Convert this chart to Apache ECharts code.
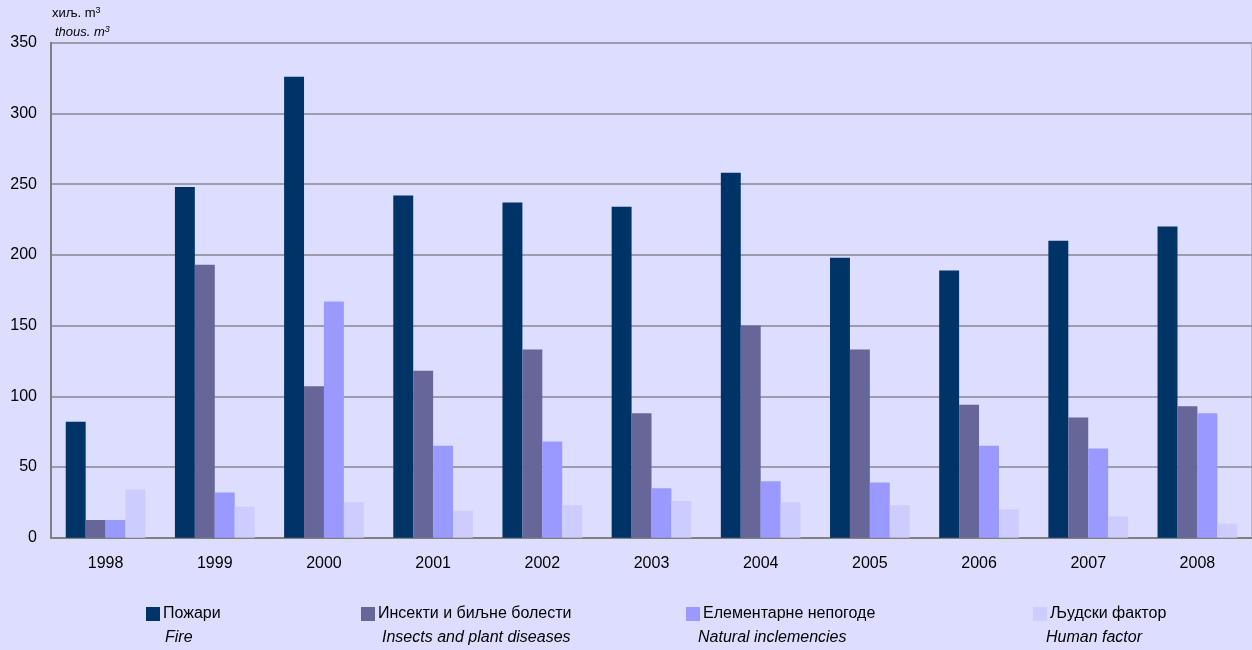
<!DOCTYPE html>
<html>
<head>
<meta charset="utf-8">
<script src="https://cdn.jsdelivr.net/npm/echarts@6/dist/echarts.min.js"></script>
<style>
  html, body { margin: 0; padding: 0; background: #DDDDFF; }
  #main { width: 1252px; height: 650px; }
</style>
</head>
<body>
<div id="main"></div>
<script>
// data
const years = ['1998', '1999', '2000', '2001', '2002', '2003', '2004', '2005', '2006', '2007', '2008'];
const fire = [82, 248, 326, 242, 237, 234, 258, 198, 189, 210, 220];
const insects = [12.5, 193, 107, 118, 133, 88, 150, 133, 94, 85, 93];
const natural = [12.5, 32, 167, 65, 68, 35, 40, 39, 65, 63, 88];
const human = [34, 22, 25, 19, 23, 26, 25, 23, 20, 15, 10];
const namesSr = ['Пожари', 'Инсекти и биљне болести', 'Елементарне непогоде', 'Људски фактор'];
const namesEn = ['Fire', 'Insects and plant diseases', 'Natural inclemencies', 'Human factor'];
const yTicks = [0, 50, 100, 150, 200, 250, 300, 350];

const colors = ['#003366', '#666699', '#9999FF', '#CCCCFF'];
const seriesData = [fire, insects, natural, human];
const font = '"Liberation Sans", Arial, sans-serif';

let myChart = echarts.init(document.getElementById('main'));

// legend positions (cyrillic row) and english labels under them
const legendLeft = [146, 361, 686, 1033];
const enLeft = [165, 382, 698, 1046];

let option = {
  backgroundColor: '#DDDDFF',
  animation: false,
  color: colors,
  grid: {
    left: 51,
    right: -2,
    top: 42.7,
    bottom: 112.3,
    show: true,
    borderColor: '#8a8a96',
    borderWidth: 1,
    backgroundColor: 'transparent'
  },
  legend: namesSr.map((n, i) => ({
    data: [n],
    left: legendLeft[i],
    top: 606,
    padding: 0,
    itemWidth: 14,
    itemHeight: 14,
    itemGap: 0,
    icon: 'rect',
    textStyle: { fontFamily: font, fontSize: 16, color: '#000', padding: [0, 0, 0, -2] },
    selectedMode: false
  })),
  xAxis: {
    type: 'category',
    data: years,
    axisLine: { lineStyle: { color: '#808080', width: 2 } },
    axisTick: { show: false },
    axisLabel: { fontFamily: font, fontSize: 16, color: '#000', margin: 18 }
  },
  yAxis: {
    type: 'value',
    min: 0,
    max: 350,
    interval: 50,
    axisLine: { show: true, lineStyle: { color: '#808080', width: 2 } },
    axisTick: { show: false },
    axisLabel: {
      fontFamily: font, fontSize: 16, color: '#000', margin: 14,
      formatter: v => yTicks.includes(v) ? String(v) : ''
    },
    splitLine: { lineStyle: { color: '#9c9cac', width: 2 } }
  },
  graphic: [
    {
      type: 'text', left: 52, top: 6,
      style: {
        text: '{a|хиљ. m}{s|3}',
        rich: {
          a: { fontFamily: font, fontSize: 13, fill: '#000' },
          s: { fontFamily: font, fontSize: 9, fill: '#000', padding: [0, 0, 6, 0] }
        }
      }
    },
    {
      type: 'text', left: 55, top: 25,
      style: {
        text: '{a|thous. m}{s|3}',
        rich: {
          a: { fontFamily: font, fontSize: 13, fontStyle: 'italic', fill: '#000' },
          s: { fontFamily: font, fontSize: 9, fontStyle: 'italic', fill: '#000', padding: [0, 0, 6, 0] }
        }
      }
    }
  ].concat(namesEn.map((t, i) => ({
    type: 'text', left: enLeft[i], top: 630,
    style: { text: t, fontFamily: font, fontSize: 16, fontStyle: 'italic', fill: '#000' }
  }))),
  series: namesSr.map((n, i) => ({
    name: n,
    type: 'bar',
    data: seriesData[i],
    barGap: '0%',
    barCategoryGap: '27%',
    itemStyle: { color: colors[i] }
  }))
};

myChart.setOption(option);
</script>
</body>
</html>
